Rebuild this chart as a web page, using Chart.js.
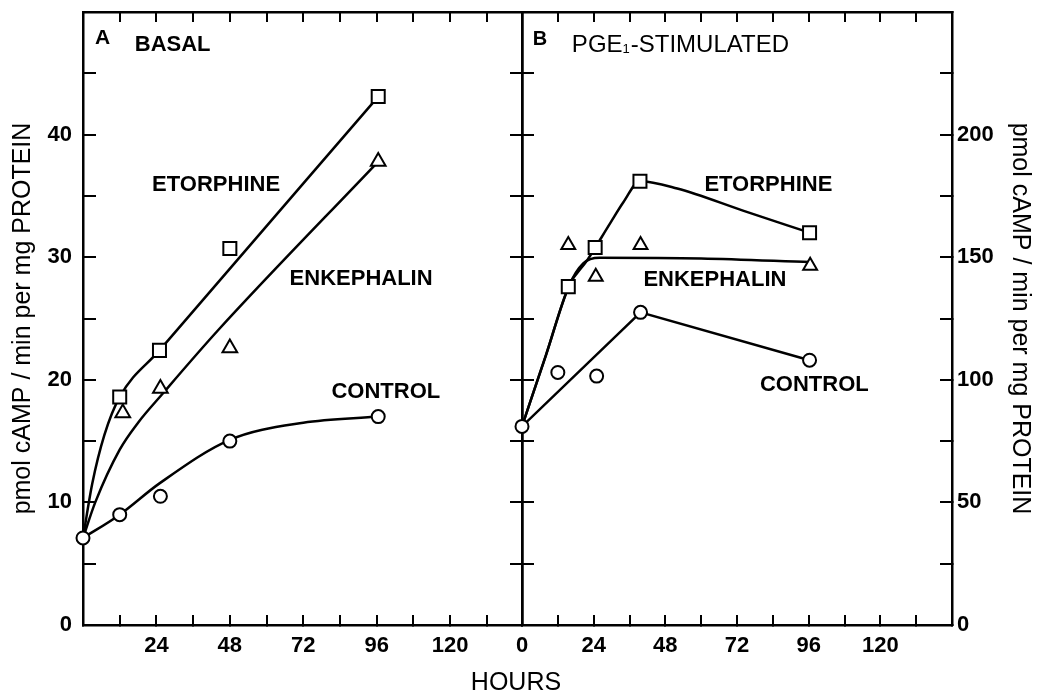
<!DOCTYPE html>
<html>
<head>
<meta charset="utf-8">
<script src="https://cdn.jsdelivr.net/npm/chart.js@4.4.1/dist/chart.umd.min.js"></script>
<style>
    html, body { margin: 0; padding: 0; background: #fff; }
    #wrap { position: relative; width: 1042px; height: 692px; overflow: hidden; }
    #chartA { position: absolute; left: 0; top: 0; }
    #chartB { position: absolute; left: 480px; top: 0; }
    #hours {
        position: absolute; left: 0; top: 667px; width: 1032px;
        text-align: center; line-height: 25px;
        font: 25px "Liberation Sans", Arial, sans-serif; color: #000;
    }
</style>
</head>
<body>
<div id="wrap">
    <canvas id="chartA" width="524" height="692"></canvas>
    <canvas id="chartB" width="562" height="692"></canvas>
    <div id="hours">HOURS</div>
</div>
<script>
// Panel A - basal, pmol cAMP/min per mg protein
const basalEtorphineHours = [12, 25, 48, 96.5];
const basalEtorphine = [18.6, 22.4, 30.7, 43.1];
const basalEnkephalinHours = [13, 25.3, 48, 96.5];
const basalEnkephalin = [17.3, 19.3, 22.6, 37.8];
const basalControlHours = [0, 12, 25.3, 48, 96.5];
const basalControl = [7.1, 9.0, 10.5, 15.0, 17.0];

// hand drawn curves of panel A
const basalEtorphineCurveHours = [0, 3, 7, 12, 25, 96.5];
const basalEtorphineCurve = [7.1, 11.5, 15.5, 18.6, 22.4, 43.1];
const basalEnkephalinCurveHours = [0, 4, 12, 18, 25.8, 44, 96.5];
const basalEnkephalinCurve = [7.1, 10.0, 14.3, 16.5, 18.8, 24.0, 37.8];
const basalControlCurveHours = [0, 12, 25, 48, 72, 96.5];
const basalControlCurve = [7.1, 9.0, 11.55, 15.1, 16.5, 17.0];

// Panel B - PGE1 stimulated
const pgeEtorphineHours = [15.5, 24.5, 39.5, 96.3];
const pgeEtorphine = [138, 154, 181, 160];
const pgeEnkephalinHours = [15.5, 24.7, 39.7, 96.5];
const pgeEnkephalin = [155, 142, 155, 146.5];
const pgeControlHours = [0, 12, 25, 39.7, 96.3];
const pgeControl = [81, 103, 101.5, 127.5, 108];

const pgeEtorphineCurveHours = [0, 8, 15.8, 21.7, 29.5, 34, 39.5, 52, 74, 96.3];
const pgeEtorphineCurve = [81, 110, 138.5, 148.5, 163.8, 172.5, 181, 178, 169, 160];
const pgeEnkephalinCurveHours = [0, 8, 15.8, 20.5, 26, 60, 96.5];
const pgeEnkephalinCurve = [81, 110, 138.5, 147.5, 149.8, 149.5, 148];
const pgeControlCurveHours = [0, 39.7, 96.3];
const pgeControlCurve = [81, 127.5, 108];

// tick labels
const hourLabelsA = [24, 48, 72, 96, 120];
const hourLabelsB = [0, 24, 48, 72, 96, 120];
const basalLabels = [0, 10, 20, 30, 40];
const pgeLabels = [0, 50, 100, 150, 200];

const yTitle = 'pmol cAMP / min per mg PROTEIN';
const FONT = '"Liberation Sans", Arial, Helvetica, sans-serif';

Chart.defaults.font.family = FONT;
Chart.defaults.color = '#000';

function toXY(xs, ys) {
    return xs.map((x, i) => ({ x: x, y: ys[i] }));
}

function markers(xs, ys, style, radius, yAxisID) {
    return {
        data: toXY(xs, ys),
        yAxisID: yAxisID,
        showLine: false,
        pointStyle: style,
        pointRadius: radius,
        pointBorderWidth: 2,
        pointBorderColor: '#000',
        pointBackgroundColor: '#fff',
        clip: false
    };
}

function curve(xs, ys, yAxisID, smooth) {
    return {
        data: toXY(xs, ys),
        yAxisID: yAxisID,
        showLine: true,
        pointRadius: 0,
        borderColor: '#000',
        borderWidth: 2.5,
        tension: 0,
        cubicInterpolationMode: smooth ? 'monotone' : 'default',
        fill: false
    };
}

// one side of the box round a panel, ticks pointing inwards
function frameAxis(position, min, max, step, size, tickLen, extra) {
    const ax = {
        type: 'linear',
        position: position,
        min: min,
        max: max,
        afterFit: function (s) {
            if (position === 'top' || position === 'bottom') s.height = size;
            else s.width = size;
            s.paddingTop = 0;
            s.paddingBottom = 0;
            s.paddingLeft = 0;
            s.paddingRight = 0;
        },
        border: { display: true, color: '#000', width: 2.5 },
        grid: { drawOnChartArea: false, color: '#000', lineWidth: 2, tickLength: tickLen },
        ticks: { display: false, stepSize: step, includeBounds: false, autoSkip: false, maxRotation: 0 }
    };
    if (extra) {
        ax.ticks = Object.assign(ax.ticks, extra.ticks || {});
        if (extra.title) ax.title = extra.title;
    }
    return ax;
}

function labelTicks(list, padding) {
    return {
        display: true,
        padding: padding,
        color: '#000',
        font: { family: FONT, size: 22, weight: 'bold' },
        callback: v => list.includes(v) ? String(v) : ''
    };
}

function textPlugin(items, yId) {
    return {
        id: 'panelText',
        afterDatasetsDraw(chart) {
            const ctx = chart.ctx;
            const xs = chart.scales.x;
            const ys = chart.scales[yId];
            ctx.save();
            ctx.fillStyle = '#000';
            ctx.textBaseline = 'middle';
            items.forEach(it => {
                let px = xs.getPixelForValue(it.x);
                const py = ys.getPixelForValue(it.y);
                if (it.parts) {
                    ctx.textAlign = 'left';
                    it.parts.forEach(p => {
                        ctx.font = p.sub ? '13px ' + FONT : it.font;
                        ctx.fillText(p.text, px, p.sub ? py + 4 : py);
                        px += ctx.measureText(p.text).width + (p.sub ? 1 : 0);
                    });
                } else {
                    ctx.font = it.font;
                    ctx.textAlign = 'center';
                    ctx.fillText(it.text, px, py);
                }
            });
            ctx.restore();
        }
    };
}

const boldLabel = 'bold 22px ' + FONT;

const notesA = [
    { text: 'A', x: 6.4, y: 47.9, font: 'bold 21px ' + FONT },
    { text: 'BASAL', x: 29.3, y: 47.3, font: boldLabel },
    { text: 'ETORPHINE', x: 43.5, y: 35.9, font: boldLabel },
    { text: 'ENKEPHALIN', x: 90.9, y: 28.2, font: boldLabel },
    { text: 'CONTROL', x: 99.0, y: 19.0, font: boldLabel }
];

const notesB = [
    { text: 'B', x: 6.0, y: 238.6, font: 'bold 20px ' + FONT },
    { x: 16.7, y: 236.3, font: '24px ' + FONT,
      parts: [{ text: 'PGE' }, { text: '1', sub: true }, { text: '-STIMULATED' }] },
    { text: 'ETORPHINE', x: 82.5, y: 179.4, font: boldLabel },
    { text: 'ENKEPHALIN', x: 64.6, y: 140.7, font: boldLabel },
    { text: 'CONTROL', x: 97.9, y: 97.8, font: boldLabel }
];

const common = {
    responsive: false,
    animation: false,
    layout: { padding: 0, autoPadding: false },
    plugins: { legend: { display: false }, tooltip: { enabled: false } }
};

new Chart(document.getElementById('chartA'), {
    type: 'line',
    data: {
        datasets: [
            markers(basalEtorphineHours, basalEtorphine, 'rect', 9.2, 'y'),
            markers(basalEnkephalinHours, basalEnkephalin, 'triangle', 8.5, 'y'),
            markers(basalControlHours, basalControl, 'circle', 6.5, 'y'),
            curve(basalEtorphineCurveHours, basalEtorphineCurve, 'y', true),
            curve(basalEnkephalinCurveHours, basalEnkephalinCurve, 'y', true),
            curve(basalControlCurveHours, basalControlCurve, 'y', true)
        ]
    },
    options: Object.assign({}, common, {
        scales: {
            x: frameAxis('bottom', 0, 143.5, 12, 67, -10, { ticks: labelTicks(hourLabelsA, 18) }),
            xTop: frameAxis('top', 0, 143.5, 12, 12, -10),
            y: frameAxis('left', 0, 50, 5, 83, -13, {
                ticks: labelTicks(basalLabels, 24),
                title: { display: true, text: yTitle, color: '#000',
                         font: { family: FONT, size: 25 }, padding: { top: 8, bottom: 0 } }
            }),
            yR: frameAxis('right', 0, 50, 5, 2, -12)
        }
    }),
    plugins: [textPlugin(notesA, 'y')]
});

new Chart(document.getElementById('chartB'), {
    type: 'line',
    data: {
        datasets: [
            markers(pgeEtorphineHours, pgeEtorphine, 'rect', 9.2, 'yR'),
            markers(pgeEnkephalinHours, pgeEnkephalin, 'triangle', 8, 'yR'),
            markers(pgeControlHours, pgeControl, 'circle', 6.5, 'yR'),
            curve(pgeEtorphineCurveHours, pgeEtorphineCurve, 'yR', true),
            curve(pgeEnkephalinCurveHours, pgeEnkephalinCurve, 'yR', true),
            curve(pgeControlCurveHours, pgeControlCurve, 'yR', false)
        ]
    },
    options: Object.assign({}, common, {
        scales: {
            x: frameAxis('bottom', 0, 144, 12, 67, -10, { ticks: labelTicks(hourLabelsB, 18) }),
            xTop: frameAxis('top', 0, 144, 12, 12, -10),
            y: frameAxis('left', 0, 250, 25, 42, -12),
            yR: frameAxis('right', 0, 250, 25, 90, -12, {
                ticks: labelTicks(pgeLabels, 17),
                title: { display: true, text: yTitle, color: '#000',
                         font: { family: FONT, size: 25 }, padding: { top: 7, bottom: 0 } }
            })
        }
    }),
    plugins: [textPlugin(notesB, 'yR')]
});
</script>
</body>
</html>
